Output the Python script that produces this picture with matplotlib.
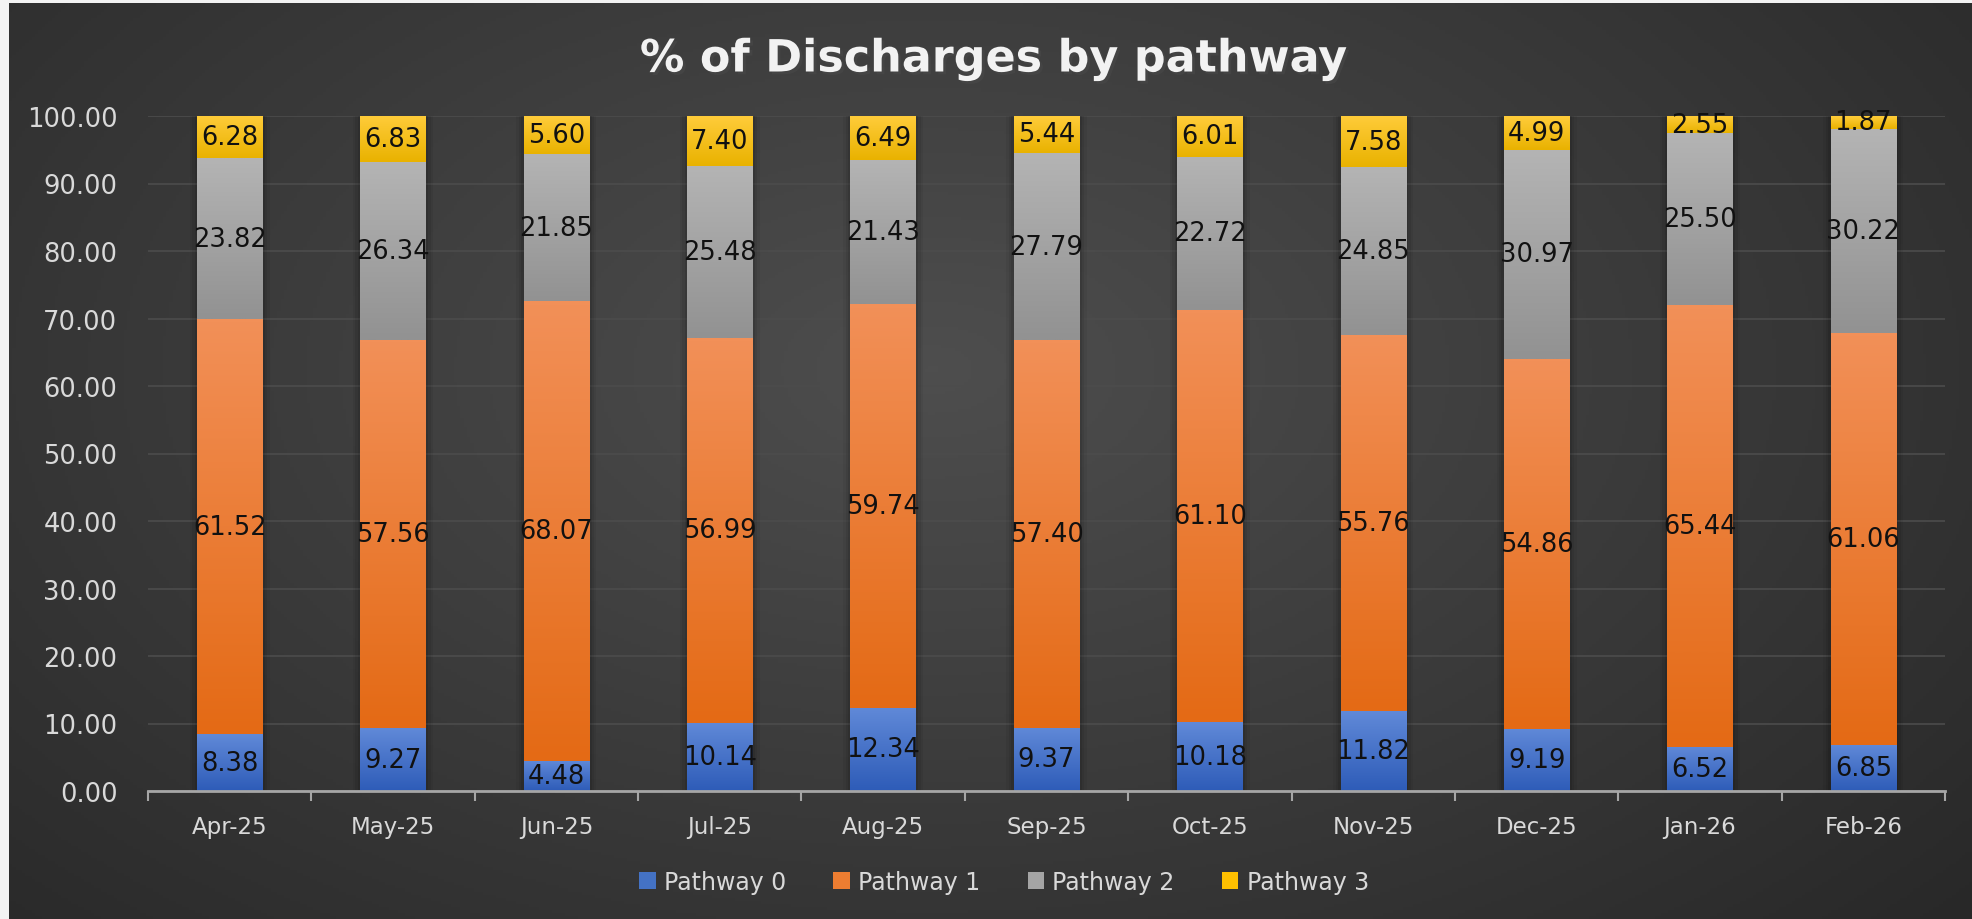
import numpy as np
import matplotlib
matplotlib.use("Agg")
import matplotlib.pyplot as plt
from matplotlib.colors import LinearSegmentedColormap
from matplotlib.patches import Patch
import matplotlib.patheffects as pe

months = ["Apr-25", "May-25", "Jun-25", "Jul-25", "Aug-25", "Sep-25",
          "Oct-25", "Nov-25", "Dec-25", "Jan-26", "Feb-26"]
pathway0 = [8.38, 9.27, 4.48, 10.14, 12.34, 9.37, 10.18, 11.82, 9.19, 6.52, 6.85]
pathway1 = [61.52, 57.56, 68.07, 56.99, 59.74, 57.40, 61.10, 55.76, 54.86, 65.44, 61.06]
pathway2 = [23.82, 26.34, 21.85, 25.48, 21.43, 27.79, 22.72, 24.85, 30.97, 25.50, 30.22]
pathway3 = [6.28, 6.83, 5.60, 7.40, 6.49, 5.44, 6.01, 7.58, 4.99, 2.55, 1.87]
series_names = ["Pathway 0", "Pathway 1", "Pathway 2", "Pathway 3"]
series = [pathway0, pathway1, pathway2, pathway3]

base_colors = ["#4472C4", "#ED7D31", "#A5A5A5", "#FFC000"]
grad_colors = [("#6089d8", "#2e5cb8"),
               ("#f29058", "#e46a15"),
               ("#b4b4b4", "#929292"),
               ("#ffcc3a", "#e9b200")]

W, H = 1972, 920
fig = plt.figure(figsize=(W / 100, H / 100), dpi=100)
fig.patch.set_facecolor("#f3f3f3")

# background radial gradient
bg = fig.add_axes([9 / W, 0, 1 - 9 / W, 1 - 4 / H])
bg.set_axis_off()
yy, xx = np.mgrid[0:1:300j, 0:1:600j]
r = np.sqrt(((xx - 0.47) / 0.75) ** 2 + ((yy - 0.6) / 0.95) ** 2)
r = np.clip(r, 0, 1)
bgcmap = LinearSegmentedColormap.from_list("bg", ["#4e4e4e", "#3a3a3a", "#262626"])
bg.imshow(r, cmap=bgcmap, aspect="auto", extent=[0, 1, 0, 1], origin="lower",
          vmin=0, vmax=1)
bg.set_xlim(0, 1)
bg.set_ylim(0, 1)

ax = fig.add_axes([148 / W, 1 - 792 / H, (1945 - 148) / W, (792 - 117) / H])
ax.set_facecolor("none")
x = np.arange(len(months))
width = 0.40

# soft shadow
totals = np.sum(np.array(series), axis=0)
for k, a in enumerate([0.05, 0.07, 0.09]):
    ax.bar(x, totals, width=width + 0.09 - k * 0.03, color="black", alpha=a,
           zorder=1.5, linewidth=0)

bottom = np.zeros(len(months))
for vals, name, col, (ctop, cbot) in zip(series, series_names, base_colors, grad_colors):
    vals = np.array(vals)
    bars = ax.bar(x, vals, width=width, bottom=bottom, color=col, linewidth=0,
                  zorder=2, label=name)
    cm = LinearSegmentedColormap.from_list("g", [cbot, ctop])
    grad = np.linspace(0, 1, 100).reshape(-1, 1)
    for b in bars:
        x0, y0 = b.get_x(), b.get_y()
        w, h = b.get_width(), b.get_height()
        im = ax.imshow(grad, cmap=cm, aspect="auto", origin="lower",
                       extent=[x0, x0 + w, y0, y0 + h], zorder=2.1,
                       interpolation="bilinear")
        im.set_clip_path(b)
    for xi, v, bt in zip(x, vals, bottom):
        ax.text(xi, bt + v / 2, f"{v:.2f}", ha="center", va="center",
                fontsize=18.5, color="#111111", zorder=4)
    bottom = bottom + vals

ax.set_xlim(-0.5, len(months) - 0.5)
ax.set_ylim(0, 100)
ax.set_yticks(np.arange(0, 101, 10))
ax.set_yticklabels([f"{v:.2f}" for v in np.arange(0, 101, 10)])
ax.set_xticks(x)
ax.set_xticklabels(months)
ax.set_xticks(np.arange(-0.5, len(months), 1.0), minor=True)
ax.tick_params(axis="x", which="major", length=0, pad=17, labelsize=16.5,
               labelcolor="#d9d9d9")
ax.tick_params(axis="x", which="minor", length=7, width=1.5, color="#a6a6a6",
               direction="out")
ax.tick_params(axis="y", length=0, pad=22, labelsize=18.5, labelcolor="#d9d9d9")
for s in ["top", "right", "left"]:
    ax.spines[s].set_visible(False)
ax.spines["bottom"].set_color("#a6a6a6")
ax.spines["bottom"].set_linewidth(2)
ax.grid(axis="y", color="#4c4c4c", linewidth=1.2, zorder=0)
ax.set_axisbelow(True)

fig.text(994 / W, 1 - 60 / H, "% of Discharges by pathway", ha="center",
         va="center", fontsize=32, fontweight="bold", color="#f2f2f2",
         path_effects=[pe.SimplePatchShadow(offset=(2, -2), alpha=0.6),
                       pe.Normal()])

handles = [Patch(facecolor=c, edgecolor="none") for c in base_colors]
leg = fig.legend(handles, series_names, loc="center", ncol=4,
                 bbox_to_anchor=(1004 / W, 1 - 883 / H), frameon=False,
                 fontsize=17, handlelength=0.7, handleheight=0.7,
                 handletextpad=0.35, columnspacing=2.0)
for t in leg.get_texts():
    t.set_color("#d9d9d9")

fig.savefig("out.png", dpi=100, facecolor=fig.get_facecolor())
